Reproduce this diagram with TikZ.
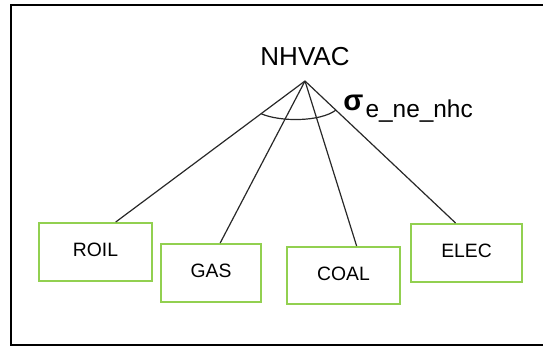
\documentclass[tikz,border=0pt]{standalone}
\usepackage{fontspec}
\setmainfont{Liberation Sans}
\usetikzlibrary{calc}

\tikzset{
  fuelbox/.style={draw={rgb,255:red,146;green,208;blue,80}, line width=1.5pt, inner sep=0pt,
    font=\fontsize{14.5}{16}\selectfont, text depth=3pt},
  branch/.style={color={rgb,255:red,40;green,40;blue,40}, line width=0.9pt}
}

\begin{document}
\begin{tikzpicture}[x=0.75pt,y=0.75pt,yscale=-1,xscale=1]
\useasboundingbox (0,0) rectangle (543,347);

%Frame
\draw [line width=1.6pt] (560,5) -- (11,5) -- (11,345) -- (560,345) ;

% Text Node
\node (nhvac) at (305,57) [inner sep=0.75pt, font=\fontsize{19.5}{21}\selectfont] {NHVAC};
\coordinate (apex) at (305,81);

% Boxes
\node (roil) at (95.5,252) [fuelbox, minimum width=84.75pt, minimum height=43.5pt] {ROIL};
\node (gas) at (211,273) [fuelbox, minimum width=75pt, minimum height=43.5pt] {GAS};
\node (coal) at (343.5,275.5) [fuelbox, minimum width=84.75pt, minimum height=42.75pt] {COAL};
\node (elec) at (466.5,253) [fuelbox, minimum width=83.25pt, minimum height=43.5pt] {ELEC};

%Straight Lines
\draw [branch] (apex) -- (roil.56) ;
\draw [branch] (apex) -- (gas.73) ;
\draw [branch] (apex) -- (coal.66) ;
\draw [branch] (apex) -- (elec.110) ;

%Curve Lines
\coordinate (arcl) at ($(apex)!0.232!(roil.56)$);
\coordinate (arcr) at ($(apex)!0.205!(elec.110)$);
\draw [branch] (arcl) .. controls (280,122) and (320,122) .. (arcr) ;

% Text Node
\node (sig) [anchor=base west, inner sep=0pt] at (343,110)
  {{\fontsize{22}{22}\selectfont\bfseries σ}\,\raisebox{-5.3pt}{\fontsize{18.3}{18}\selectfont e\_ne\_nhc}};

\end{tikzpicture}
\end{document}
